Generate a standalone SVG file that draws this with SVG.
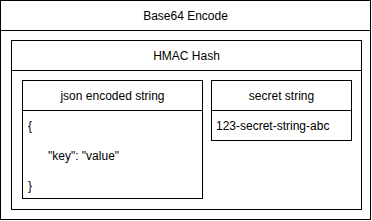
<svg xmlns="http://www.w3.org/2000/svg" width="372" height="221" viewBox="0 0 372 221">
<style>
rect,line{fill:#fff;stroke:#000;stroke-width:1}
text{font-family:"Liberation Sans",Arial,sans-serif;font-size:12px;fill:#000}
.c{text-anchor:middle}
</style>
<g id="base64">
<rect x="0.5" y="0.5" width="370" height="219"/>
<line x1="0.5" y1="30.5" x2="370.5" y2="30.5"/>
<text class="c" x="185.5" y="19.5">Base64 Encode</text>
</g>
<g id="hmac">
<rect x="11.5" y="40.5" width="350" height="169"/>
<line x1="11.5" y1="70.5" x2="361.5" y2="70.5"/>
<text class="c" x="186.5" y="59.5">HMAC Hash</text>
</g>
<g id="json">
<rect x="22.5" y="80.5" width="180" height="118"/>
<line x1="22.5" y1="110.5" x2="202.5" y2="110.5"/>
<text class="c" x="112.5" y="99.5">json encoded string</text>
<text x="28" y="129.5">{</text>
<text x="48" y="159.5">"key": "value"</text>
<text x="28" y="189.5">}</text>
</g>
<g id="secret">
<rect x="211.5" y="80.5" width="140" height="60"/>
<line x1="211.5" y1="110.5" x2="351.5" y2="110.5"/>
<text class="c" x="281.5" y="99.5">secret string</text>
<text x="216" y="129.5">123-secret-string-abc</text>
</g>
<g id="connectors"/>
</svg>
